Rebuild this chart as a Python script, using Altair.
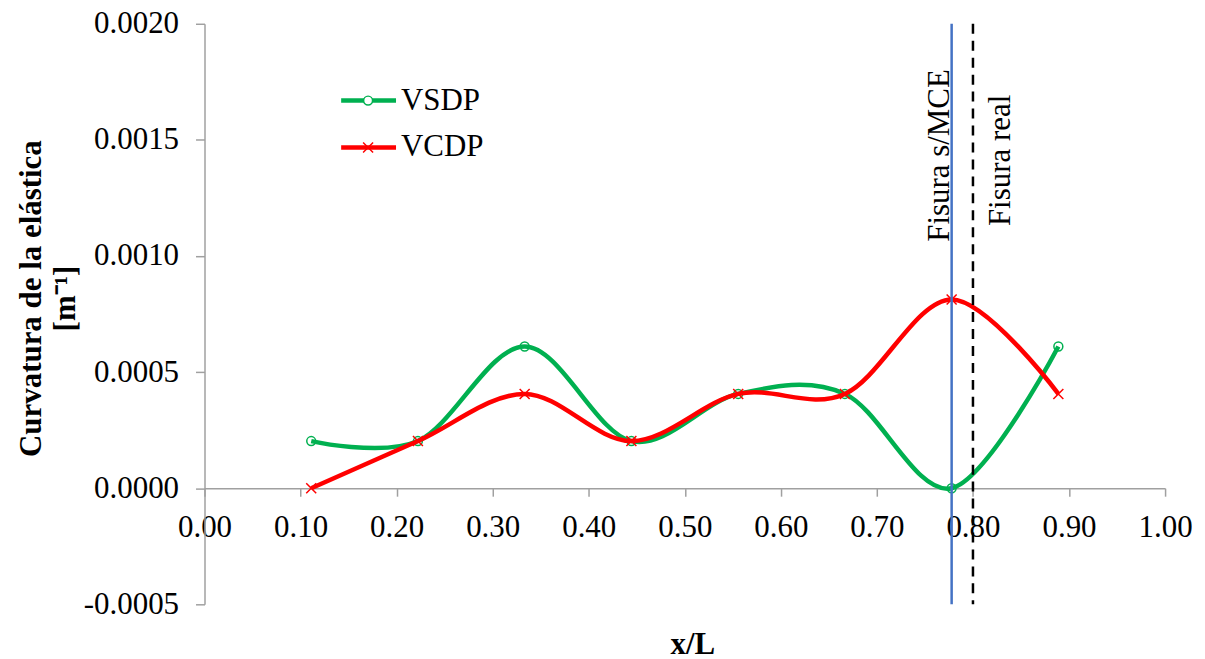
import altair as alt
import pandas as pd

# ---- data ----
x_pos = [0.1111, 0.2222, 0.3333, 0.4444, 0.5556, 0.6667, 0.7778, 0.8889]
vsdp = [0.000203, 0.000203, 0.000610, 0.000203, 0.000406, 0.000406, 0.0, 0.000610]
vcdp = [0.0, 0.000203, 0.000406, 0.000203, 0.000406, 0.000406, 0.000813, 0.000406]
series_names = ["VSDP", "VCDP"]
series_colors = ["#00B050", "#FF0000"]
x_ticks = [0.0, 0.1, 0.2, 0.3, 0.4, 0.5, 0.6, 0.7, 0.8, 0.9, 1.0]
y_ticks = [-0.0005, 0.0, 0.0005, 0.0010, 0.0015, 0.0020]
crack_names = ["Fisura s/MCE", "Fisura real"]
crack_x = [0.7778, 0.80]
x_title = "x/L"
y_title = ["Curvatura de la elástica", "[m⁻¹]"]

FONT = "Liberation Serif"
FS = 31
AXIS_GRAY = "#a0a0a0"

W, H = 963, 582
Y_MIN, Y_MAX = -0.0005, 0.0020
zero_px = H * (Y_MAX - 0) / (Y_MAX - Y_MIN)   # plot-relative pixel of y=0
x_offset = -(H - zero_px)

df_s = pd.DataFrame({"x": x_pos, "value": vsdp, "series": series_names[0]})
df_c = pd.DataFrame({"x": x_pos, "value": vcdp, "series": series_names[1]})
df_crack = pd.DataFrame({"x": crack_x, "name": crack_names})

X = alt.X(
    "x:Q",
    scale=alt.Scale(domain=[0, 1], nice=False, zero=False),
    axis=alt.Axis(
        values=x_ticks, format=".2f", offset=x_offset, grid=False,
        domainColor=AXIS_GRAY, domainWidth=1.5, tickColor=AXIS_GRAY, tickWidth=1.5,
        tickSize=8, labelFontSize=FS, labelFont=FONT, labelColor="black",
        labelPadding=16, labelFlush=False, labelOverlap=False, labelBound=False,
        title=x_title, titleFont=FONT, titleFontSize=FS, titleFontWeight="bold",
        titleColor="black", titleX=489, titleY=166, titleBaseline="alphabetic",
        titleAnchor="start", titleAlign="center",
    ),
)
Y = alt.Y(
    "value:Q",
    scale=alt.Scale(domain=[Y_MIN, Y_MAX], nice=False, zero=False),
    axis=alt.Axis(
        values=y_ticks, grid=False,
        labelExpr="datum.value < 0 ? '-' + format(-datum.value, '.4f') : format(datum.value, '.4f')",
        domainColor=AXIS_GRAY, domainWidth=1.5, tickColor=AXIS_GRAY, tickWidth=1.5,
        tickSize=9, labelFontSize=FS, labelFont=FONT, labelColor="black",
        labelPadding=17, labelOverlap=False, labelBound=False, labelFlush=False,
        title=y_title, titleFont=FONT, titleFontSize=FS, titleFontWeight="bold",
        titleColor="black", titleX=-164, titleY=275, titleAngle=270,
        titleBaseline="alphabetic", titleAlign="center", titleLineHeight=34,
    ),
)

line_s = alt.Chart(df_s).mark_line(
    interpolate="cardinal", strokeWidth=4.5, color=series_colors[0]
).encode(x=X, y=Y)
pts_s = alt.Chart(df_s).mark_point(
    shape="circle", filled=False, size=80, strokeWidth=1.5, color=series_colors[0], opacity=1
).encode(x=X, y=Y)

cross_path = "M-1,-1L1,1M-1,1L1,-1"
line_c = alt.Chart(df_c).mark_line(
    interpolate="cardinal", strokeWidth=4.5, color=series_colors[1]
).encode(x=X, y=Y)
pts_c = alt.Chart(df_c).mark_point(
    shape=cross_path, filled=False, size=100, strokeWidth=1.5, color=series_colors[1], opacity=1
).encode(x=X, y=Y)

rule_blue = alt.Chart(df_crack.iloc[[0]]).mark_rule(
    color="#4472C4", strokeWidth=2.5
).encode(x=X)
rule_dash = alt.Chart(df_crack.iloc[[1]]).mark_rule(
    color="black", strokeWidth=2.5, strokeDash=[10, 7]
).encode(x=X)

txt_blue = alt.Chart(df_crack.iloc[[0]]).mark_text(
    angle=270, align="center", baseline="alphabetic", dy=-3,
    font=FONT, fontSize=FS, color="black"
).encode(x=X, y=alt.value(132), text="name:N")
txt_dash = alt.Chart(df_crack.iloc[[1]]).mark_text(
    angle=270, align="center", baseline="alphabetic", dy=37,
    font=FONT, fontSize=FS, color="black"
).encode(x=X, y=alt.value(137), text="name:N")

# ---- legend (top-left, inside plot) ----
legend_layers = []
legend_y = [77, 124]
for i, name in enumerate(series_names):
    ldf = pd.DataFrame({"series": [name]})
    legend_layers.append(
        alt.Chart(ldf).mark_rule(strokeWidth=4.5, color=series_colors[i]).encode(
            x=alt.value(137), x2=alt.value(192), y=alt.value(legend_y[i])
        )
    )
    if i == 0:
        legend_layers.append(
            alt.Chart(ldf).mark_point(
                shape="circle", filled=True, fill="white", stroke=series_colors[i],
                size=80, strokeWidth=1.5, opacity=1
            ).encode(x=alt.value(164), y=alt.value(legend_y[i]))
        )
    else:
        legend_layers.append(
            alt.Chart(ldf).mark_point(
                shape=cross_path, filled=False, size=100, strokeWidth=1.5,
                color=series_colors[i], opacity=1
            ).encode(x=alt.value(164), y=alt.value(legend_y[i]))
        )
    legend_layers.append(
        alt.Chart(ldf).mark_text(
            align="left", baseline="middle", font=FONT, fontSize=FS, color="black"
        ).encode(x=alt.value(197), y=alt.value(legend_y[i]), text="series:N")
    )

chart = alt.layer(
    line_s, pts_s, line_c, pts_c, rule_blue, rule_dash, txt_blue, txt_dash, *legend_layers
).properties(
    width=W, height=H,
    autosize=alt.AutoSizeParams(type="none"),
    padding={"left": 197, "top": 15, "right": 32, "bottom": 52},
    background="white",
).configure_view(stroke=None)

chart.save("out.html", embed_options={"renderer": "svg", "actions": False})
